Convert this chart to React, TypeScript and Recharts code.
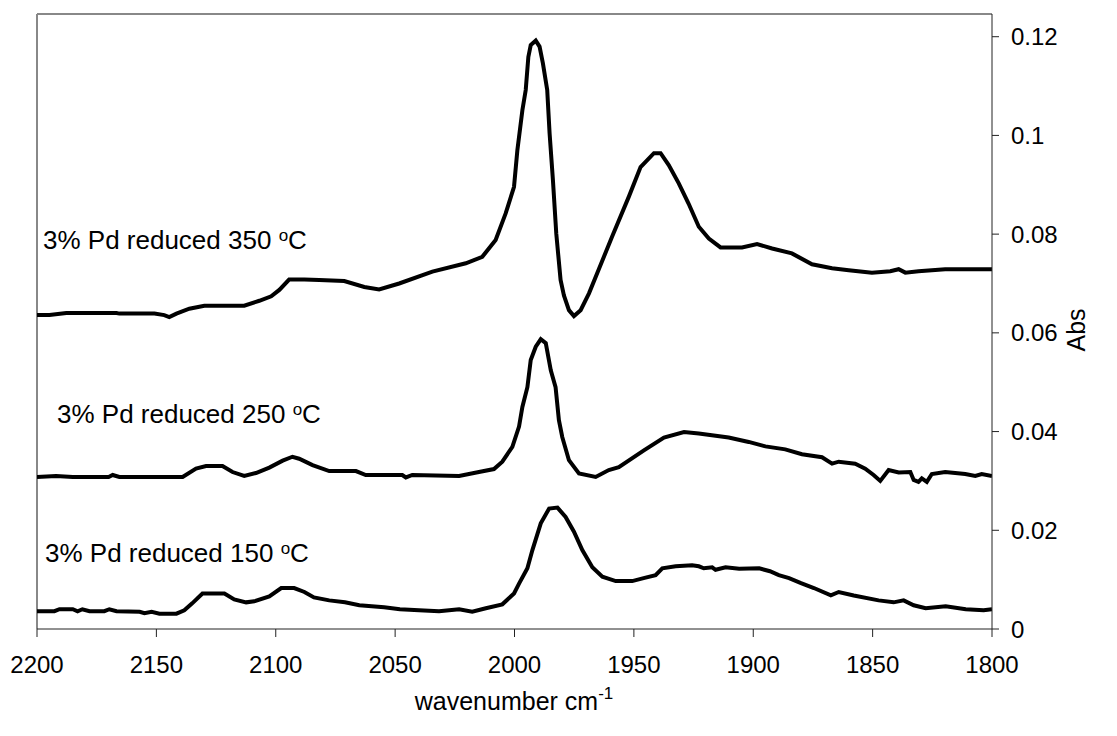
import React from 'react';
import { LineChart, Line, XAxis, YAxis, ReferenceLine } from 'recharts';

// wavenumber (cm-1) / absorbance pairs
const pd350: [number, number][] = [
  [2200, 0.0636], [2194.8, 0.0636], [2187.7, 0.064], [2166.7, 0.064], [2165.5, 0.0639], [2150.8, 0.0639],
  [2146.7, 0.0636], [2144.6, 0.0632], [2141.6, 0.0639], [2136.2, 0.0649], [2129.9, 0.0655], [2113.2, 0.0655],
  [2106.9, 0.0665], [2101.9, 0.0674], [2098.5, 0.0687], [2094.4, 0.0708], [2088, 0.0708], [2081.8, 0.0707],
  [2071.3, 0.0705], [2062.9, 0.0693], [2056.7, 0.0688], [2048.3, 0.07], [2034.4, 0.0724], [2020.4, 0.0741],
  [2013.5, 0.0754], [2007.9, 0.0788], [2003.7, 0.0842], [2000.2, 0.0896], [1998.8, 0.097], [1996.7, 0.1051],
  [1995.3, 0.1092], [1994.2, 0.1159], [1993.2, 0.1183], [1991.1, 0.1192], [1989.5, 0.118], [1988.1, 0.1146],
  [1986.3, 0.1092], [1985.3, 0.1004], [1983.9, 0.0909], [1982.5, 0.0801], [1980.7, 0.0707], [1979.3, 0.0676],
  [1977.2, 0.0646], [1975.1, 0.0634], [1972.3, 0.0646], [1968.8, 0.068], [1964.6, 0.073], [1959.1, 0.0795],
  [1952.1, 0.0876], [1947.2, 0.0936], [1941.6, 0.0964], [1938.8, 0.0964], [1935.4, 0.094], [1931.2, 0.0903],
  [1927.1, 0.0862], [1922.8, 0.0815], [1918.6, 0.0791], [1913.7, 0.0773], [1904.7, 0.0773], [1898.4, 0.078],
  [1892.1, 0.0771], [1883.8, 0.0761], [1875.4, 0.0739], [1867, 0.0731], [1860, 0.0727], [1850.3, 0.0722],
  [1842.6, 0.0725], [1839.1, 0.0729], [1836.3, 0.0722], [1830.8, 0.0725], [1819.6, 0.0729], [1800, 0.0729],
];

const pd250: [number, number][] = [
  [2200, 0.0308], [2192, 0.031], [2185, 0.0308], [2170, 0.0308], [2168.3, 0.0312], [2165.5, 0.0308],
  [2139, 0.0308], [2133.4, 0.0325], [2129.2, 0.033], [2122.3, 0.033], [2118.1, 0.0318], [2113.2, 0.031],
  [2108.3, 0.0316], [2102.7, 0.0327], [2097.1, 0.0341], [2093, 0.0349], [2090.2, 0.0345], [2084.6, 0.0332],
  [2077.6, 0.032], [2066.4, 0.032], [2062.3, 0.0312], [2047, 0.0312], [2045.5, 0.0307], [2042.8, 0.0312],
  [2023.2, 0.031], [2014.9, 0.0318], [2008.6, 0.0324], [2005.1, 0.0339], [2000.9, 0.0369], [1998.1, 0.041],
  [1996.7, 0.045], [1994.6, 0.049], [1993.2, 0.0545], [1991.1, 0.0572], [1989, 0.0587], [1986.9, 0.0579],
  [1984.8, 0.0524], [1982.8, 0.049], [1981.4, 0.0423], [1980, 0.0389], [1977.2, 0.0342], [1973, 0.0315],
  [1966, 0.0308], [1960.5, 0.0322], [1956.3, 0.0328], [1945.8, 0.0362], [1937.4, 0.0388], [1929, 0.0399],
  [1922.8, 0.0396], [1910.3, 0.0388], [1901.9, 0.0379], [1894.9, 0.037], [1886.6, 0.0364], [1879.6, 0.0354],
  [1871.2, 0.0348], [1867, 0.0335], [1864.2, 0.0339], [1857.3, 0.0335], [1853.1, 0.0325], [1849.6, 0.0312],
  [1846.8, 0.03], [1843.3, 0.0322], [1839.1, 0.0317], [1834.2, 0.0318], [1832.8, 0.0302], [1830.8, 0.0298],
  [1829.4, 0.0305], [1827.3, 0.0298], [1825.2, 0.0314], [1819.6, 0.0318], [1811.2, 0.0314], [1807, 0.031],
  [1804.3, 0.0314], [1800, 0.031],
];

const pd150: [number, number][] = [
  [2200, 0.0036], [2192.7, 0.0036], [2190.6, 0.004], [2185, 0.004], [2183, 0.0036], [2181, 0.004],
  [2178, 0.0036], [2171.8, 0.0036], [2169.7, 0.004], [2166.7, 0.0036], [2157, 0.0035], [2155, 0.0032],
  [2152, 0.0035], [2148.7, 0.0031], [2141.6, 0.0031], [2138.3, 0.0038], [2135, 0.0052], [2130.7, 0.0072],
  [2121.5, 0.0072], [2117.4, 0.006], [2112.4, 0.0054], [2109, 0.0056], [2102.7, 0.0066], [2097.7, 0.0083],
  [2092.3, 0.0083], [2088, 0.0075], [2084, 0.0064], [2077.6, 0.0058], [2071, 0.0054], [2065, 0.0048],
  [2054.6, 0.0044], [2048, 0.004], [2040, 0.0038], [2031.6, 0.0036], [2023.2, 0.004], [2017.7, 0.0035],
  [2012, 0.0042], [2005.1, 0.005], [2000.2, 0.0072], [1998.1, 0.0092], [1994.6, 0.0123], [1992.5, 0.016],
  [1989, 0.0214], [1985.5, 0.0244], [1982, 0.0246], [1978.6, 0.0227], [1975.1, 0.0197], [1971.6, 0.016],
  [1967.4, 0.0125], [1963.2, 0.0106], [1957.6, 0.0097], [1950.7, 0.0097], [1945.1, 0.0104], [1940.9, 0.0109],
  [1938.1, 0.0123], [1932.5, 0.0127], [1925.6, 0.0129], [1922.8, 0.0127], [1920.7, 0.0123], [1917.2, 0.0125],
  [1915.8, 0.012], [1911.6, 0.0125], [1905.9, 0.0122], [1897.5, 0.0123], [1893, 0.0117], [1889.3, 0.0109],
  [1885, 0.0103], [1880, 0.0093], [1874.6, 0.0083], [1867.5, 0.0068], [1864.2, 0.0075], [1857.9, 0.0068],
  [1847.5, 0.0058], [1841.2, 0.0054], [1837, 0.0058], [1832.8, 0.0048], [1827.8, 0.0042], [1819.4, 0.0046],
  [1811, 0.004], [1803.5, 0.0038], [1800, 0.004],
];

const xTicks = [2200, 2150, 2100, 2050, 2000, 1950, 1900, 1850, 1800];
const yTicks = [0, 0.02, 0.04, 0.06, 0.08, 0.1, 0.12];
const yMax = 0.1246;
const sampleLabels = ['3% Pd reduced 350', '3% Pd reduced 250', '3% Pd reduced 150'];

const toRows = (pairs: [number, number][]) => pairs.map(([wn, abs]) => ({ wn, abs }));

const FONT = '"Liberation Sans", Arial, sans-serif';

const Note = ({ x, y, text }: { x: number; y: number; text: string }) => (
  <text x={x} y={y} fontSize={26} fontFamily={FONT} fill="#000">
    {text}{' '}
    <tspan dy={-8} fontSize={17}>o</tspan>
    <tspan dy={8}>C</tspan>
  </text>
);

const App: React.FC = () => {
  const axisColor = '#222';
  return (
    <div style={{ position: 'absolute', left: 0, top: 0, width: 1117, height: 736, background: '#fff' }}>
      <LineChart width={1117} height={736} data={toRows(pd350)} margin={{ top: 14, right: 45, left: 37, bottom: 47 }}>
        <ReferenceLine x={2200} stroke="#888" strokeWidth={2} />
        <ReferenceLine y={yMax} stroke="#888" strokeWidth={2} />
        <XAxis
          dataKey="wn"
          type="number"
          domain={[1800, 2200]}
          reversed
          ticks={xTicks}
          height={60}
          tickSize={8}
          tickMargin={19}
          stroke={axisColor}
          tick={{ fill: '#000', fontSize: 24, fontFamily: FONT }}
          allowDataOverflow
        />
        <YAxis
          orientation="right"
          type="number"
          domain={[0, yMax]}
          ticks={yTicks}
          width={80}
          tickSize={7}
          tickMargin={12}
          stroke={axisColor}
          tick={{ fill: '#000', fontSize: 24, fontFamily: FONT }}
          allowDataOverflow
        />
        <Line data={toRows(pd350)} dataKey="abs" type="linear" stroke="#000" strokeWidth={4} dot={false} isAnimationActive={false} />
        <Line data={toRows(pd250)} dataKey="abs" type="linear" stroke="#000" strokeWidth={4} dot={false} isAnimationActive={false} />
        <Line data={toRows(pd150)} dataKey="abs" type="linear" stroke="#000" strokeWidth={4} dot={false} isAnimationActive={false} />
        <Note x={43} y={249} text={sampleLabels[0]} />
        <Note x={57} y={423} text={sampleLabels[1]} />
        <Note x={45} y={562} text={sampleLabels[2]} />
        <text x={514} y={710} textAnchor="middle" fontSize={25} fontFamily={FONT} fill="#000">
          wavenumber cm<tspan dy={-11} fontSize={17}>-1</tspan>
        </text>
        <text x={1085} y={330} textAnchor="middle" fontSize={25} fontFamily={FONT} fill="#000" transform="rotate(-90 1085 330)">
          Abs
        </text>
      </LineChart>
    </div>
  );
};

export default App;
